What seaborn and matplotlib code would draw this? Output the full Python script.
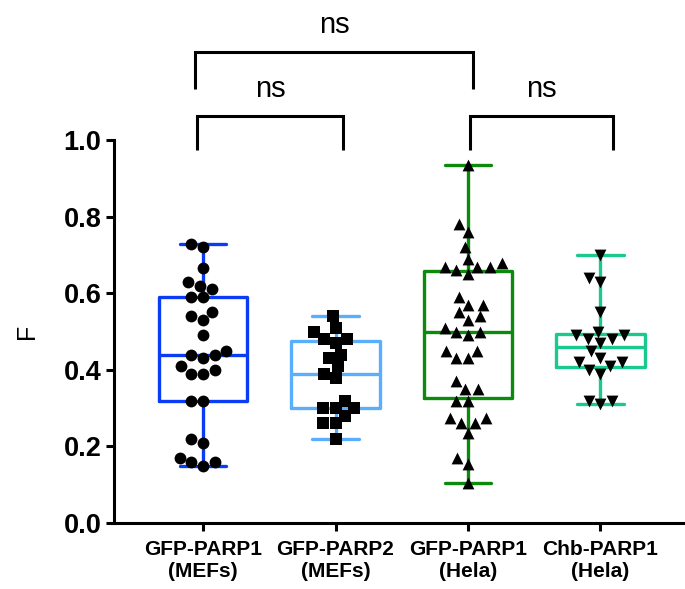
import pandas as pd
import matplotlib
matplotlib.use("Agg")
import matplotlib.pyplot as plt
import seaborn as sns

# 数据：四组 F 值
groups = ["GFP-PARP1\n(MEFs)", "GFP-PARP2\n(MEFs)", "GFP-PARP1\n(Hela)", "Chb-PARP1\n(Hela)"]

parp1_mefs = [0.72, 0.73, 0.667, 0.62, 0.63, 0.61, 0.59, 0.59, 0.55, 0.53, 0.54, 0.49,
              0.44, 0.43, 0.44, 0.45, 0.41, 0.39, 0.39, 0.40, 0.32, 0.32, 0.22, 0.21,
              0.16, 0.15, 0.16, 0.17]
parp2_mefs = [0.54, 0.51, 0.50, 0.48, 0.47, 0.48, 0.43, 0.44, 0.41, 0.39, 0.38, 0.32,
              0.30, 0.30, 0.30, 0.28, 0.26, 0.26, 0.22]
parp1_hela = [0.935, 0.78, 0.76, 0.72, 0.69, 0.68, 0.67, 0.67, 0.67, 0.65, 0.66, 0.59,
              0.57, 0.57, 0.55, 0.54, 0.53, 0.51, 0.50, 0.49, 0.50, 0.45, 0.45, 0.43,
              0.43, 0.37, 0.35, 0.35, 0.32, 0.32, 0.275, 0.275, 0.26, 0.26, 0.235,
              0.17, 0.155, 0.105]
chb_hela = [0.70, 0.63, 0.64, 0.55, 0.50, 0.49, 0.48, 0.48, 0.49, 0.47, 0.45, 0.43,
            0.42, 0.42, 0.40, 0.41, 0.39, 0.32, 0.31, 0.32]

values = [parp1_mefs, parp2_mefs, parp1_hela, chb_hela]
colors = ["#0a3cf5", "#5aaefc", "#0b8a0b", "#19c98f"]
markers = ["o", "s", "^", "v"]

# 显著性标注：(左, 右, 横线高度, 竖线底部, 文字)
brackets = [(-0.06, 2.04, 1.230, 1.133, "ns"),
            (-0.045, 1.057, 1.063, 0.974, "ns"),
            (2.015, 3.094, 1.063, 0.974, "ns")]

df = pd.DataFrame({
    "group": [g for g, v in zip(groups, values) for _ in v],
    "F": [x for v in values for x in v],
})

sns.set_style("ticks")
plt.rcParams["font.family"] = ["Liberation Sans", "DejaVu Sans"]
plt.rcParams.update({
    "text.color": "black", "axes.labelcolor": "black", "axes.edgecolor": "black",
    "xtick.color": "black", "ytick.color": "black",
})

fig = plt.figure(figsize=(6.85, 5.89), dpi=100)
ax = fig.add_axes([0.1664, 0.112, 0.8336, 0.650])

# 箱线图（最小值-最大值须线，无填充）
sns.boxplot(data=df, x="group", y="F", hue="group", order=groups, hue_order=groups,
            palette=colors, fill=False, whis=(0, 100), width=0.67, linewidth=2.4,
            saturation=1, showfliers=False, legend=False, ax=ax, capwidths=0.35)

# 散点
for g, m in zip(groups, markers):
    sns.swarmplot(data=df[df["group"] == g], x="group", y="F", order=groups,
                  color="black", marker=m, size=8.5, ax=ax, zorder=5)

ax.set_ylim(0, 1.0)
ax.set_xlim(-0.672, 3.638)
ax.set_yticks([0.0, 0.2, 0.4, 0.6, 0.8, 1.0])
ax.set_yticklabels(["0.0", "0.2", "0.4", "0.6", "0.8", "1.0"])
ax.set_xlabel("")
ax.set_ylabel("F", fontsize=18, labelpad=18)

for s in ["top", "right"]:
    ax.spines[s].set_visible(False)
for s in ["left", "bottom"]:
    ax.spines[s].set_linewidth(2.2)
    ax.spines[s].set_color("black")
ax.tick_params(axis="both", width=2.2, length=6, color="black", labelcolor="black")
ax.tick_params(axis="y", labelsize=19.5, pad=3)
ax.tick_params(axis="x", labelsize=15, pad=6)
for lab in ax.get_yticklabels() + ax.get_xticklabels():
    lab.set_fontweight("bold")

# 显著性括号
for x0, x1, yh, yl, txt in brackets:
    ax.plot([x0, x0, x1, x1], [yl, yh, yh, yl], color="black", lw=2.2,
            clip_on=False, solid_capstyle="butt", solid_joinstyle="miter")
    ax.text((x0 + x1) / 2, yh + 0.07, txt, ha="center", va="center",
            fontsize=21, color="black", clip_on=False)

fig.savefig("out.png", dpi=100)
